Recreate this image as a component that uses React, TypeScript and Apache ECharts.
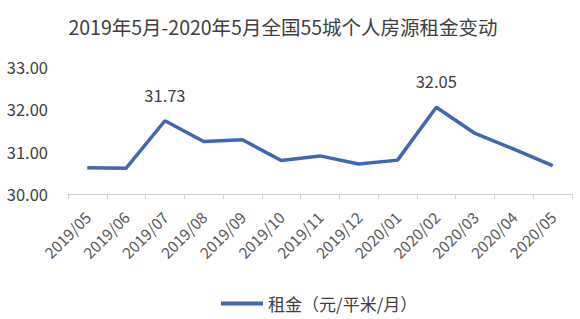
import React, { useEffect, useRef } from "react";
import * as echarts from "echarts";

const categories = [
  "2019/05", "2019/06", "2019/07", "2019/08", "2019/09", "2019/10", "2019/11",
  "2019/12", "2020/01", "2020/02", "2020/03", "2020/04", "2020/05",
];
const rentValues = [30.62, 30.61, 31.73, 31.24, 31.28, 30.79, 30.9, 30.71, 30.8, 32.05, 31.43, 31.06, 30.67];
const labeledIndices = [2, 9];
const seriesName = "租金（元/平米/月）";
const titleText = "2019年5月-2020年5月全国55城个人房源租金变动";

const FONT = "'Noto Sans CJK SC', 'Noto Sans', sans-serif";
const LINE_COLOR = "#3F67B3";

export default function App() {
  const ref = useRef<HTMLDivElement>(null);
  useEffect(() => {
    if (!ref.current) return;
    const chart = echarts.init(ref.current, undefined, { renderer: "svg" });
    chart.setOption({
      animation: false,
      backgroundColor: "#ffffff",
      textStyle: { fontFamily: FONT },
      title: {
        text: titleText,
        left: 278,
        textAlign: "center",
        top: 12,
        textStyle: { fontSize: 19.5, fontWeight: "normal", color: "#404040", fontFamily: FONT },
      },
      grid: { left: 68, right: 8, top: 67, bottom: 125, containLabel: false },
      legend: {
        bottom: 2,
        left: 216,
        data: [{ name: seriesName, icon: "rect", itemStyle: { color: LINE_COLOR, opacity: 1 } }],
        itemWidth: 42,
        itemHeight: 4,
        itemGap: 2,
        textStyle: { fontSize: 17, color: "#404040", fontFamily: FONT },
      },
      xAxis: {
        type: "category",
        data: categories,
        boundaryGap: true,
        axisLine: { lineStyle: { color: "#d0d0d0", width: 1 } },
        axisTick: { show: true, length: 5, lineStyle: { color: "#d0d0d0" } },
        axisLabel: { rotate: 45, fontSize: 15.5, color: "#595959", interval: 0, margin: 20, fontFamily: FONT },
      },
      yAxis: {
        type: "value",
        min: 30,
        max: 33,
        interval: 1,
        axisLine: { show: false },
        axisTick: { show: false },
        splitLine: { show: false },
        axisLabel: {
          fontSize: 16.5,
          color: "#404040",
          margin: 20,
          align: "right",
          formatter: (v: number) => v.toFixed(2),
          fontFamily: FONT,
        },
      },
      series: [
        {
          name: seriesName,
          type: "line",
          data: rentValues.map((v, i) => ({
            value: v,
            label: {
              show: labeledIndices.includes(i),
              position: "top",
              distance: 17,
              fontSize: 16.5,
              color: "#404040",
              formatter: (p: any) => Number(p.value).toFixed(2),
              fontFamily: FONT,
            },
          })),
          showSymbol: true,
          symbol: "circle",
          symbolSize: 1,
          lineStyle: { color: LINE_COLOR, width: 3.5 },
          itemStyle: { color: LINE_COLOR },
        },
      ],
    });
    return () => chart.dispose();
  }, []);
  return <div ref={ref} style={{ width: 580, height: 319, position: "absolute", left: 0, top: 0 }} />;
}
